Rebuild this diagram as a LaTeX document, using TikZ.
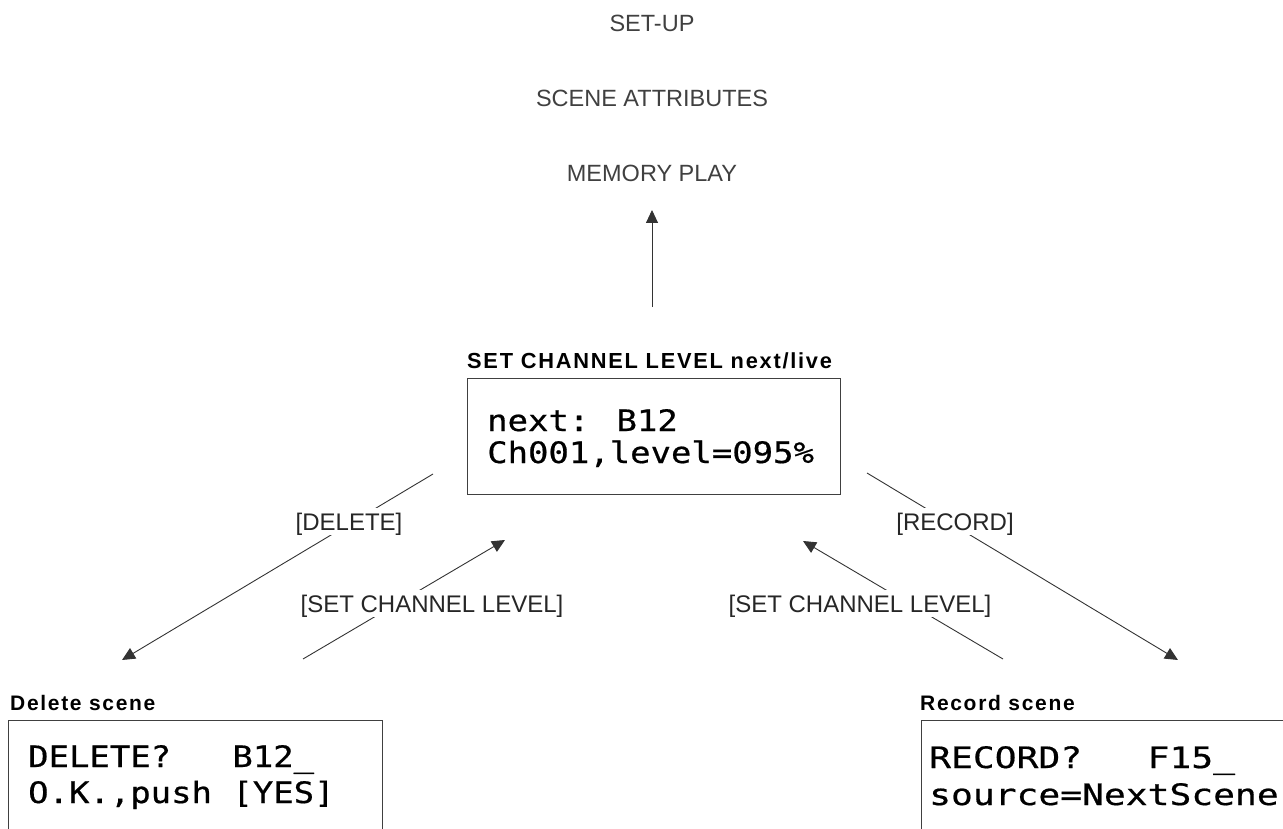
\documentclass[tikz,border=0pt]{standalone}
\usepackage{fontspec}
\setmainfont{Liberation Sans}
\newfontfamily\lcdfont[FakeStretch=1.15,FakeBold=0.6]{DejaVu Sans Mono}
\newfontfamily\lcdwide[FakeStretch=1.23,FakeBold=0.6]{DejaVu Sans Mono}
\newfontfamily\hdfont[LetterSpace=8]{Liberation Sans}
\usetikzlibrary{arrows.meta}
\begin{document}
\begin{tikzpicture}[x=1pt,y=-1pt,
  line/.style={draw=black!80, line width=0.9pt},
  arr/.style={line, -{Triangle[length=13pt,width=12pt]}},
  menu/.style={text=black!75, font=\fontsize{23.5}{28}\selectfont, anchor=base, inner sep=0pt},
  key/.style={fill=white, text=black!85, font=\fontsize{24}{28}\selectfont, inner xsep=3pt, inner ysep=5pt, text depth=0pt, anchor=base},
  title/.style={font=\hdfont\bfseries\fontsize{21}{25}\selectfont, anchor=base west, inner sep=0pt},
  lcd/.style={font=\lcdfont\fontsize{29.5}{34}\selectfont, anchor=base west, inner sep=0pt},
  lcdw/.style={font=\lcdwide\fontsize{29.5}{34}\selectfont, anchor=base west, inner sep=0pt},
  screen/.style={draw=black!75, line width=1pt, anchor=north west, inner sep=0pt}
]
\useasboundingbox (0,0) rectangle (1283,829);

% menu items
\node[menu] (setup)  at (652,32)  {SET-UP};
\node[menu] (scene)  at (652,107) {SCENE ATTRIBUTES};
\node[menu] (memory) at (652,182) {MEMORY PLAY};

% main screen
\node[title, font=\hdfont\bfseries\fontsize{21.8}{26}\selectfont] (mainhdr) at (467,368) {SET CHANNEL LEVEL next/live};
\node[screen, minimum width=373pt, minimum height=116pt] (main) at (467,378) {};
\node[lcd] (m1) at (487,431) {next: B12};
\node[lcd] (m2) at (487,463) {Ch001,level=095\%};

% delete screen
\node[title] (delhdr) at (10,710) {Delete scene};
\node[screen, minimum width=374pt, minimum height=140pt] (delbox) at (8,720) {};
\node[lcd] (d1) at (28,767) {DELETE?\ \ \ B12\_};
\node[lcd] (d2) at (28,803) {O.K.,push [YES]};

% record screen
\node[title] (rechdr) at (920,710) {Record scene};
\node[screen, minimum width=400pt, minimum height=140pt] (recbox) at (921,720) {};
\node[lcdw] (r1) at (929,768) {RECORD?\ \ \ F15\_};
\node[lcdw] (r2) at (929,805) {source=NextScene};

% connector end points
\coordinate (u0) at (652,307);
\coordinate (u1) at (652,210);
\coordinate (dA) at (433,474);
\coordinate (dB) at (122,660);
\coordinate (sA) at (303,659);
\coordinate (sB) at (505,540);
\coordinate (rA) at (867,473);
\coordinate (rB) at (1178,660);
\coordinate (tA) at (1003,659);
\coordinate (tB) at (803,541);

\draw[arr] (u0) -- (u1);
\draw[arr] (dA) -- (dB);
\draw[arr] (sA) -- (sB);
\draw[arr] (rA) -- (rB);
\draw[arr] (tA) -- (tB);

% key labels
\node[key] (kdel) at (349,530) {[DELETE]};
\node[key] (kscl) at (432,612) {[SET CHANNEL LEVEL]};
\node[key] (krec) at (955,530) {[RECORD]};
\node[key] (kscr) at (860,612) {[SET CHANNEL LEVEL]};
\end{tikzpicture}
\end{document}
